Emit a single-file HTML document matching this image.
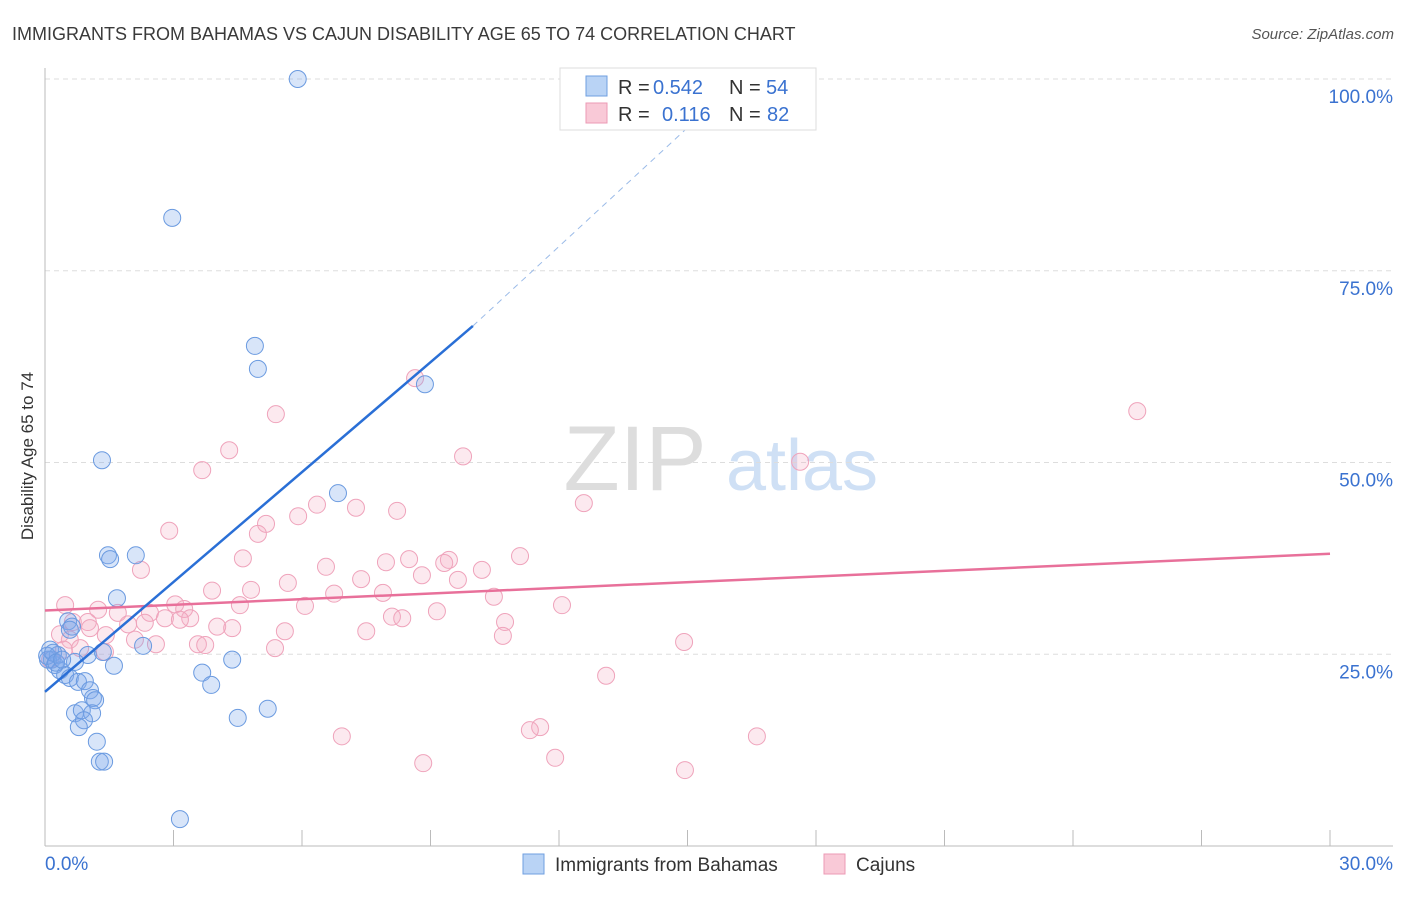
<!DOCTYPE html>
<html><head><meta charset="utf-8"><style>
body{margin:0;background:#fff;font-family:"Liberation Sans",sans-serif;}
svg text{font-family:"Liberation Sans",sans-serif;}
</style></head><body>
<svg id="chart" width="1406" height="892" viewBox="0 0 1406 892">
<text x="12" y="40" font-size="18" fill="#3a3a3a">IMMIGRANTS FROM BAHAMAS VS CAJUN DISABILITY AGE 65 TO 74 CORRELATION CHART</text>
<text x="1394" y="39" font-size="15" fill="#555" font-style="italic" text-anchor="end">Source: ZipAtlas.com</text>
<text transform="translate(33,456) rotate(-90)" font-size="17" fill="#333" text-anchor="middle">Disability Age 65 to 74</text>
<g><text x="635" y="490" font-size="92" fill="#ddd" font-family="Liberation Serif" text-anchor="middle">ZIP</text><text x="802" y="490" font-size="72" fill="#cfe0f5" text-anchor="middle">atlas</text></g>
<g id="grid"></g><g id="axes"></g><g id="marks"></g>
<g>
<rect x="560" y="68" width="256" height="62" fill="#fff" stroke="#ddd"/>
<rect x="586" y="76" width="21" height="20" fill="#b9d3f5" stroke="#6f9fe0"/>
<rect x="586" y="103" width="21" height="20" fill="#f9c9d7" stroke="#ec9ab4"/>
<text x="618" y="94" font-size="20" fill="#333">R =</text>
<text x="653" y="94" font-size="20" fill="#3a72d0">0.542</text>
<text x="729" y="94" font-size="20" fill="#333">N =</text>
<text x="766" y="94" font-size="20" fill="#3a72d0">54</text>
<text x="618" y="121" font-size="20" fill="#333">R =</text>
<text x="662" y="121" font-size="20" fill="#3a72d0">0.116</text>
<text x="729" y="121" font-size="20" fill="#333">N =</text>
<text x="767" y="121" font-size="20" fill="#3a72d0">82</text>
</g>
<g>
<rect x="523" y="854" width="21" height="20" fill="#b9d3f5" stroke="#6f9fe0"/>
<text x="555" y="871" font-size="19" fill="#333">Immigrants from Bahamas</text>
<rect x="824" y="854" width="21" height="20" fill="#f9c9d7" stroke="#ec9ab4"/>
<text x="856" y="871" font-size="19" fill="#333">Cajuns</text>
</g>
</svg>
<script>
const xTicks=[0,3,6,9,12,15,18,21,24,27,30];
const yTicks=[25,50,75,100];
const yTickLabels=["25.0%","50.0%","75.0%","100.0%"];
const xLabels=["0.0%","30.0%"];
const blueX=[5.9,2.97,4.9,4.97,8.87,1.33,6.84,1.47,1.52,2.12,1.68,2.29,0.54,0.63,0.58,1.0,1.35,1.61,3.67,4.37,3.88,0.7,0.12,0.16,0.23,0.3,0.35,0.47,0.58,0.77,0.93,1.05,1.12,1.17,0.7,0.86,1.1,0.91,0.79,1.21,1.28,1.38,3.15,4.5,5.2,0.07,0.05,0.19,0.26,0.4];
const blueY=[100,81.9,65.2,62.2,60.2,50.3,46.0,37.9,37.4,37.9,32.3,26.1,29.3,28.6,28.2,24.9,25.3,23.5,22.6,24.3,21.0,24.0,25.6,24.3,23.6,24.9,22.9,22.3,21.9,21.4,21.5,20.3,19.3,19.0,17.3,17.7,17.3,16.4,15.5,13.6,11.0,11.0,3.5,16.7,17.9,24.3,24.8,25.2,23.9,24.3];
const pinkX=[8.64,5.39,25.5,17.63,9.76,4.3,3.67,12.58,6.35,5.91,7.26,8.22,5.16,4.97,2.9,4.62,7.96,8.5,9.43,9.32,11.09,6.56,2.24,10.2,8.8,7.38,9.64,5.67,3.9,4.81,6.75,7.89,10.48,3.04,4.55,6.07,12.07,0.47,1.24,3.25,1.7,2.45,9.15,2.8,3.39,3.15,8.1,8.34,10.74,0.65,1.0,1.94,2.33,4.02,4.37,1.05,5.6,7.5,10.69,0.35,1.42,2.1,0.58,2.59,3.57,3.74,14.92,5.37,0.44,0.82,1.4,13.1,11.56,11.32,6.93,16.62,11.91,8.83,14.94,0.12];
const pinkY=[61.0,56.3,56.7,50.1,50.8,51.6,49.0,44.7,44.5,43.0,44.1,43.7,42.0,40.7,41.1,37.5,37.0,37.4,37.3,36.9,37.8,36.4,36.0,36.0,35.3,34.8,34.7,34.3,33.3,33.4,32.9,33.0,32.5,31.5,31.4,31.3,31.4,31.4,30.8,30.9,30.4,30.4,30.6,29.7,29.7,29.5,29.9,29.7,29.2,29.2,29.2,28.9,29.1,28.6,28.4,28.4,28.0,28.0,27.4,27.6,27.5,26.9,26.9,26.3,26.3,26.2,26.6,25.8,25.6,25.8,25.3,22.2,15.5,15.1,14.3,14.3,11.5,10.8,9.9,24.3];
const blueTrend=[[0,20.1],[9.99,67.8]];
const blueDash=[[9.99,67.8],[15.65,97]];
const pinkTrend=[[0,30.7],[30,38.1]];
const NS="http://www.w3.org/2000/svg";
const X=v=>45+v*(1285/30);
const Y=v=>846-v*7.67;
function mk(tag,attrs,parent){const e=document.createElementNS(NS,tag);for(const k in attrs)e.setAttribute(k,attrs[k]);document.getElementById(parent).appendChild(e);return e;}
yTicks.forEach((t,i)=>{
 const g=mk('line',{x1:45,x2:1393,y1:Y(t),y2:Y(t),stroke:'#ddd','stroke-dasharray':'5,4'},'grid');
 
 
 const l=mk('text',{x:1393,y:Y(t)+24,'font-size':19,fill:'#3a72d0','text-anchor':'end'},'axes');
 l.textContent=yTickLabels[i];
 
 
});
const ax=mk('line',{x1:45,x2:45,y1:68,y2:846,stroke:'#bbb'},'axes');


const bx=mk('line',{x1:45,x2:1393,y1:846,y2:846,stroke:'#bbb'},'axes');


xTicks.forEach(t=>{
 const tk=mk('line',{x1:X(t),x2:X(t),y1:830,y2:846,stroke:'#bbb'},'axes');
 
 
});
[[0,'start',45],[30,'end',1393]].forEach((a,i)=>{
 const l=mk('text',{x:a[2],y:870,'font-size':19,fill:'#3a72d0','text-anchor':a[1]},'axes');
 l.textContent=xLabels[i];
 
 
});
function pts(xs,ys,fill,stroke,name){xs.forEach((v,i)=>{
 const c=mk('circle',{cx:X(v),cy:Y(ys[i]),r:8.5,fill:fill,stroke:stroke,'stroke-width':1},'marks');
 
 
});}
pts(pinkX,pinkY,'rgba(246,175,197,0.28)','#efa3bb','cajun-point');
pts(blueX,blueY,'rgba(125,170,235,0.3)','#6a9ae0','bahamas-point');
function ln(p,stroke,w,dash,name){const l=mk('line',{x1:X(p[0][0]),y1:Y(p[0][1]),x2:X(p[1][0]),y2:Y(p[1][1]),stroke:stroke,'stroke-width':w},'marks');if(dash)l.setAttribute('stroke-dasharray',dash);
 
 }
ln(pinkTrend,'#e8709a',2.5,null,'cajun-trend-line');
ln(blueTrend,'#2a6fd6',2.5,null,'bahamas-trend-line');
ln(blueDash,'#9bbbe8',1,'6,5','bahamas-trend-extension');
</script>
</body></html>
